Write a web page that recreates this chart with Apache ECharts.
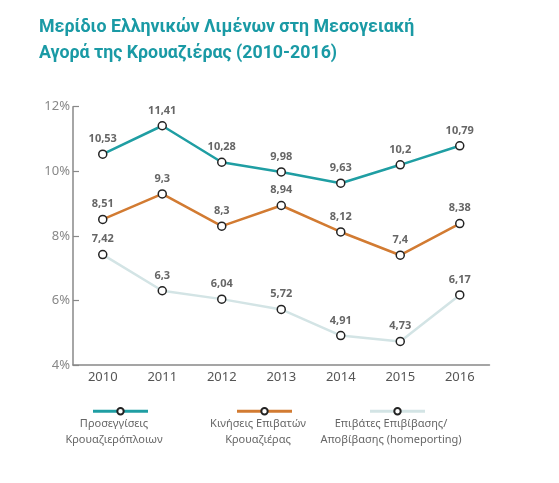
<!DOCTYPE html>
<html><head><meta charset="utf-8">
<script src="https://cdn.jsdelivr.net/npm/echarts@6/dist/echarts.min.js"></script>
<style>html,body{margin:0;padding:0;background:#fff}#c{width:559px;height:483px}</style>
</head><body><div id="c"></div>
<script>
var years = ['2010','2011','2012','2013','2014','2015','2016'];
var seriesNames = ['Προσεγγίσεις Κρουαζιερόπλοιων','Κινήσεις Επιβατών Κρουαζιέρας','Επιβάτες Επιβίβασης/ Αποβίβασης (homeporting)'];
var legendLabels = ['Προσεγγίσεις\nΚρουαζιερόπλοιων','Κινήσεις Επιβατών\nΚρουαζιέρας','Επιβάτες Επιβίβασης/\nΑποβίβασης (homeporting)'];
var calls = [10.53, 11.41, 10.28, 9.98, 9.63, 10.2, 10.79];
var passengers = [8.51, 9.3, 8.3, 8.94, 8.12, 7.4, 8.38];
var homeporting = [7.42, 6.3, 6.04, 5.72, 4.91, 4.73, 6.17];
var yTicks = [4, 6, 8, 10, 12];
var colors = ['#1f9ea3', '#d27b32', '#d3e4e5'];
var legendCenters = [114, 258, 391];

var chart = echarts.init(document.getElementById('c'), null, {renderer:'canvas'});
var font = 'Noto Sans';
function mk(name, data, color){
  return {
    name: name, type: 'line', data: data,
    symbol: 'circle', symbolSize: 8,
    lineStyle: {color: color, width: 2.5},
    itemStyle: {color: '#fff', borderColor: '#222', borderWidth: 1.5},
    label: {show: true, position: 'top', distance: 5, color: '#666', fontWeight: 'bold', fontSize: 11, fontFamily: font,
      formatter: function(p){ return String(p.value).replace('.', ','); }},
    emphasis: {disabled: true}
  };
}
var legends = seriesNames.map(function(n, i){
  return {data: [n], left: legendCenters[i] - 27.5, top: 402, itemWidth: 55, itemHeight: 8,
    lineStyle: {width: 3},
    formatter: function(){ return ''; }, textStyle: {fontSize: 1}, selectedMode: false};
});
chart.setOption({
  animation: false,
  title: {text: 'Μερίδιο Ελληνικών Λιμένων στη Μεσογειακή\nΑγορά της Κρουαζιέρας (2010-2016)',
    left: 34, top: 10, textStyle: {color: '#1a9aa5', fontSize: 17.8, fontWeight: 'bold', fontFamily: 'Roboto', lineHeight: 26}},
  grid: {left: 73, top: 106.7, width: 416.5, bottom: 118, containLabel: false},
  legend: legends,
  xAxis: {type: 'category', data: years, boundaryGap: true,
    axisLine: {lineStyle: {color: '#888', width: 1.5}},
    axisTick: {inside: true, length: 6, alignWithLabel: true, lineStyle: {color: '#888', width: 1.2}},
    axisLabel: {color: '#555', fontSize: 13, fontFamily: font, margin: 6}},
  yAxis: {type: 'value', min: yTicks[0], max: yTicks[yTicks.length-1], interval: 2,
    axisLine: {show: true, lineStyle: {color: '#888', width: 1.5}},
    axisTick: {show: true, inside: true, length: 6, lineStyle: {color: '#888', width: 1.2}},
    splitLine: {show: false},
    axisLabel: {color: '#888', fontSize: 13, fontFamily: font, margin: 3, formatter: '{value}%'}},
  graphic: legendLabels.map(function(t, i){
    return {type: 'text', x: legendCenters[i], y: 416, silent: true,
      style: {text: t, textAlign: 'center', fill: '#666', fontSize: 11, fontFamily: font, lineHeight: 16}};
  }),
  series: [mk(seriesNames[0], calls, colors[0]), mk(seriesNames[1], passengers, colors[1]), mk(seriesNames[2], homeporting, colors[2])]
});
</script></body></html>
